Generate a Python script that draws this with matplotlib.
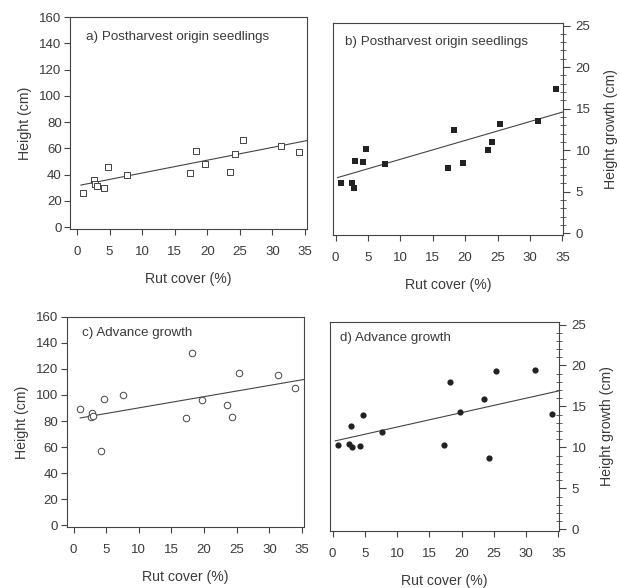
import numpy as np
import matplotlib
matplotlib.use("Agg")
import matplotlib.pyplot as plt
from matplotlib.ticker import MultipleLocator

plt.rcParams['font.family'] = ['Liberation Sans', 'DejaVu Sans']

# ---- data ----
rut_cover = [0.9, 2.6, 2.8, 3.0, 4.2, 4.7, 7.6, 17.3, 18.2, 19.7, 23.5, 24.2, 25.4, 31.3, 34.0]

height_post = [26, 36, 33, 31, 30, 46, 40, 41, 58, 48, 42, 56, 66, 62, 57]
growth_post = [6.0, 6.1, 5.4, 8.7, 8.6, 10.2, 8.4, 7.9, 12.4, 8.5, 10.0, 11.0, 13.2, 13.5, 17.4]
height_adv = [89, 83, 86, 84, 57, 97, 100, 82, 132, 96, 92, 83, 117, 115, 105]
growth_adv = [10.35, 10.4, 12.6, 10.1, 10.15, 14.0, 11.9, 10.35, 17.95, 14.3, 15.9, 8.75, 19.3, 19.4, 14.1]

# regression lines: (intercept, slope, x start, x end)
line_a = (31.4, 0.977, 0.6, 35.3)
line_b = (6.64, 0.227, 0.3, 35.0)
line_c = (81.5, 0.86, 1.0, 35.4)
line_d = (10.73, 0.176, 0.4, 35.0)

titles = ["a) Postharvest origin seedlings", "b) Postharvest origin seedlings",
          "c) Advance growth", "d) Advance growth"]
x_ticks = [0, 5, 10, 15, 20, 25, 30, 35]
h_ticks = [0, 20, 40, 60, 80, 100, 120, 140, 160]
g_ticks = [0, 5, 10, 15, 20, 25]

TXT = '#3a3a3a'
LN = '#444444'
TICK_FS = 9.5
LAB_FS = 10.2
TITLE_FS = 9.6

fig = plt.figure(figsize=(6.2, 5.88), dpi=100)

pos = {
    'a': [0.1129, 0.6105, 0.3823, 0.3605],
    'b': [0.5371, 0.6003, 0.3710, 0.3605],
    'c': [0.1075, 0.1032, 0.3827, 0.3582],
    'd': [0.5323, 0.0969, 0.3694, 0.3554],
}
title_pos = {'a': (0.068, 0.907), 'b': (0.052, 0.912), 'c': (0.063, 0.921), 'd': (0.044, 0.922)}


def style_common(ax):
    for s in ax.spines.values():
        s.set_color(LN)
        s.set_linewidth(0.8)
    ax.set_xticks(x_ticks)
    ax.tick_params(axis='x', direction='out', length=4, width=0.8, color=LN,
                   labelcolor=TXT, labelsize=TICK_FS, pad=8)
    ax.set_xlabel("Rut cover (%)", fontsize=LAB_FS, color=TXT, labelpad=10)


def draw_line(ax, ln):
    b0, b1, x0, x1 = ln
    xs = np.array([x0, x1])
    ax.plot(xs, b0 + b1 * xs, color=LN, lw=0.8, zorder=2)


def left_panel(key, yvals, ln, marker):
    ax = fig.add_axes(pos[key])
    style_common(ax)
    ax.set_xlim(-1.07, 35.3)
    ax.set_ylim(-1.5, 160)
    ax.set_yticks(h_ticks)
    ax.tick_params(axis='y', direction='out', length=4, width=0.8, color=LN,
                   labelcolor=TXT, labelsize=TICK_FS, pad=2)
    ax.set_ylabel("Height (cm)", fontsize=LAB_FS, color=TXT, labelpad=5)
    draw_line(ax, ln)
    ax.scatter(rut_cover, yvals, marker=marker, s=22, facecolors='white',
               edgecolors=LN, linewidths=0.7, zorder=3)
    ax.text(*title_pos[key], titles['abcd'.index(key)], transform=ax.transAxes,
            fontsize=TITLE_FS, color=TXT, va='center', ha='left')
    return ax


def right_panel(key, yvals, ln, marker, ms):
    ax = fig.add_axes(pos[key])
    style_common(ax)
    ax.set_xlim(-0.4, 35.1)
    ax.set_ylim(-0.2, 25.3)
    ax.yaxis.tick_right()
    ax.yaxis.set_label_position('right')
    ax.set_yticks(g_ticks)
    ax.yaxis.set_minor_locator(MultipleLocator(1))
    ax.tick_params(axis='y', which='major', direction='out', length=5, width=0.8,
                   color=LN, labelcolor=TXT, labelsize=TICK_FS, pad=4)
    ax.tick_params(axis='y', which='minor', direction='inout', length=4, width=0.6, color=LN)
    ax.set_ylabel("Height growth (cm)", fontsize=LAB_FS, color=TXT, labelpad=10)
    draw_line(ax, ln)
    ax.scatter(rut_cover, yvals, marker=marker, s=ms, color='#222222',
               linewidths=0, zorder=3)
    ax.text(*title_pos[key], titles['abcd'.index(key)], transform=ax.transAxes,
            fontsize=TITLE_FS, color=TXT, va='center', ha='left')
    return ax


left_panel('a', height_post, line_a, 's')
right_panel('b', growth_post, line_b, 's', 22)
left_panel('c', height_adv, line_c, 'o')
right_panel('d', growth_adv, line_d, 'o', 20)

fig.savefig("out.png", dpi=100)
